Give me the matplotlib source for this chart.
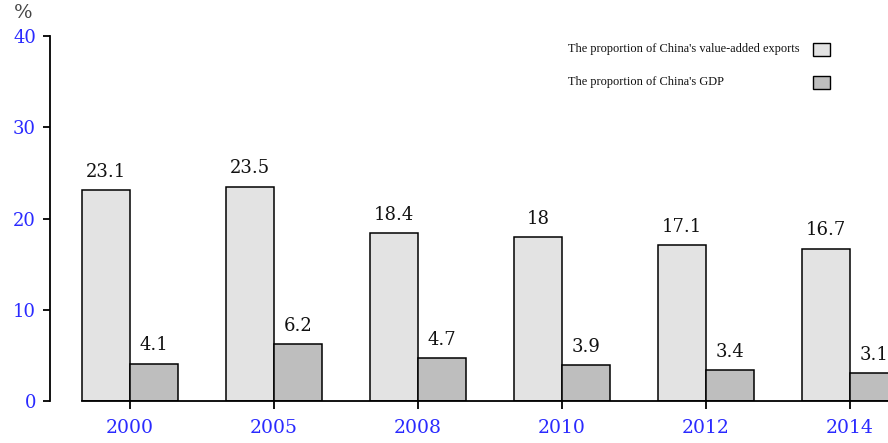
import numpy as np
import matplotlib
matplotlib.use("Agg")
import matplotlib.pyplot as plt
from matplotlib.patches import Rectangle

years = ["2000", "2005", "2008", "2010", "2012", "2014"]
export_share = [23.1, 23.5, 18.4, 18, 17.1, 16.7]
gdp_share = [4.1, 6.2, 4.7, 3.9, 3.4, 3.1]
legend_labels = ["The proportion of China's value-added exports",
                 "The proportion of China's GDP"]

light = "#e3e3e3"
dark = "#bebebe"
blue = "#2a2aff"

def main():
    fig = plt.figure(figsize=(8.88, 4.43), dpi=100)
    W, H = 888, 443
    ax = fig.add_axes([50 / W, 42 / H, 1 - 50 / W, (401 - 36) / H])

    x = np.arange(len(years))
    w = 1 / 3
    ax.bar(x - w / 2, export_share, width=w, color=light, edgecolor="black", linewidth=1.1)
    ax.bar(x + w / 2, gdp_share, width=w, color=dark, edgecolor="black", linewidth=1.1)

    for xi, v in zip(x, export_share):
        ax.text(xi - w / 2, v + 1.0, "{:g}".format(v), ha="center", va="bottom",
                family="DejaVu Serif", fontsize=13, color="#111111")
    for xi, v in zip(x, gdp_share):
        ax.text(xi + w / 2, v + 1.0, "{:g}".format(v), ha="center", va="bottom",
                family="DejaVu Serif", fontsize=13, color="#111111")

    ax.set_xlim(-0.556, 5.264)
    ax.set_ylim(0, 40)
    ax.set_yticks([0, 10, 20, 30, 40])
    ax.set_xticks(x)
    ax.set_xticklabels(years)

    for s in ["top", "right"]:
        ax.spines[s].set_visible(False)
    ax.spines["left"].set_bounds(0, 40)
    ax.spines["bottom"].set_bounds(-w, 6)
    ax.spines["left"].set_linewidth(1.3)
    ax.spines["bottom"].set_linewidth(1.3)

    ax.tick_params(axis="y", direction="out", length=5, width=1.3, pad=5,
                   labelcolor=blue, labelsize=13)
    ax.tick_params(axis="x", direction="out", length=6, width=1.3, pad=7,
                   labelcolor=blue, labelsize=13.5)
    for lab in ax.get_xticklabels() + ax.get_yticklabels():
        lab.set_family("DejaVu Serif")

    fig.text(23 / W, 1 - 13 / H, "%", ha="center", va="center",
             family="DejaVu Serif", fontsize=14, color="#444444")

    # legend: text left aligned, swatch on the right
    rows_y = [49, 82]
    for lab, col, yy in zip(legend_labels, [light, dark], rows_y):
        fig.text(568 / W, 1 - yy / H, lab, ha="left", va="center",
                 family="Liberation Serif", fontsize=8.9, color="#111111")
        fig.patches.append(Rectangle((813 / W, 1 - (yy + 6.5) / H), 17 / W, 13 / H,
                                     transform=fig.transFigure, facecolor=col,
                                     edgecolor="black", linewidth=1.0))

    fig.savefig("out.png", dpi=100)
    plt.close()

if __name__ == "__main__":
    main()
